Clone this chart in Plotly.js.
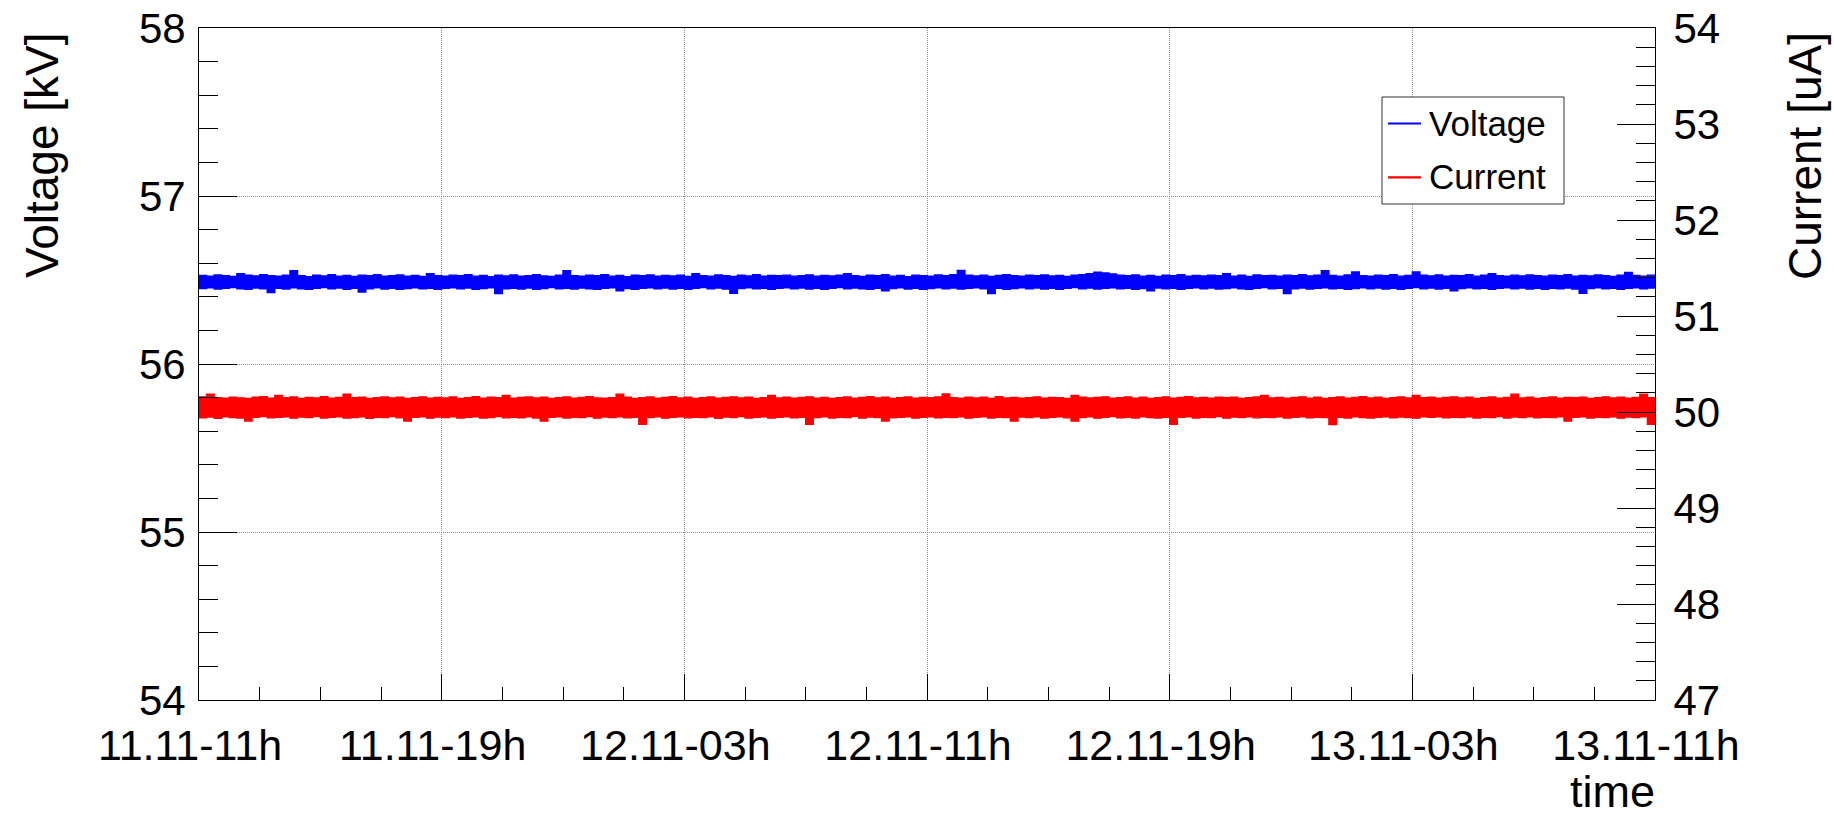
<!DOCTYPE html>
<html>
<head>
<meta charset="utf-8">
<script src="https://cdn.plot.ly/plotly-3.0.1.min.js"></script>
<style>
  html, body { margin: 0; padding: 0; background: #fff; }
  #plot { width: 1834px; height: 818px; }
</style>
</head>
<body>
<div id="plot"></div>
<script>
// HV supply monitor: voltage and current over two days.
// Each series is stored as a per-bin envelope (max / min of the raw
// readings in consecutive 15-minute bins), starting 11.11 11:00.
var startTime = Date.UTC(2018, 10, 11, 11, 0);   // 11.11 11:00
var binMinutes = 15;
var spanHours = 48;

// Voltage [kV], bin maxima
var voltageMax = [
  56.527, 56.523, 56.530, 56.526, 56.521, 56.538, 56.528, 56.524, 56.531, 56.525, 56.522, 56.529, 56.556, 56.526, 56.520, 56.528,
  56.524, 56.531, 56.523, 56.527, 56.521, 56.529, 56.525, 56.532, 56.522, 56.526, 56.530, 56.523, 56.527, 56.521, 56.538, 56.526,
  56.522, 56.529, 56.525, 56.531, 56.523, 56.527, 56.520, 56.528, 56.524, 56.530, 56.522, 56.526, 56.532, 56.524, 56.521, 56.528,
  56.555, 56.525, 56.522, 56.529, 56.526, 56.531, 56.523, 56.527, 56.520, 56.528, 56.525, 56.530, 56.522, 56.527, 56.524, 56.529,
  56.521, 56.538, 56.526, 56.523, 56.530, 56.525, 56.521, 56.528, 56.524, 56.531, 56.522, 56.527, 56.525, 56.529, 56.523, 56.526,
  56.530, 56.522, 56.527, 56.524, 56.529, 56.538, 56.525, 56.521, 56.528, 56.526, 56.531, 56.523, 56.527, 56.520, 56.529, 56.525,
  56.522, 56.530, 56.526, 56.532, 56.557, 56.528, 56.524, 56.529, 56.521, 56.527, 56.531, 56.525, 56.522, 56.528, 56.526, 56.530,
  56.524, 56.527, 56.521, 56.529, 56.532, 56.538, 56.546, 56.542, 56.536, 56.529, 56.525, 56.530, 56.523, 56.527, 56.521, 56.528,
  56.525, 56.531, 56.522, 56.527, 56.524, 56.529, 56.526, 56.538, 56.523, 56.528, 56.521, 56.530, 56.525, 56.527, 56.522, 56.529,
  56.526, 56.531, 56.524, 56.528, 56.555, 56.527, 56.523, 56.530, 56.548, 56.526, 56.522, 56.529, 56.525, 56.531, 56.523, 56.527,
  56.548, 56.528, 56.524, 56.530, 56.522, 56.527, 56.525, 56.531, 56.523, 56.528, 56.538, 56.526, 56.522, 56.529, 56.524, 56.530,
  56.526, 56.523, 56.529, 56.525, 56.531, 56.522, 56.527, 56.524, 56.530, 56.526, 56.521, 56.528, 56.545, 56.527, 56.523, 56.529,
  56.526
];

// Voltage [kV], bin minima
var voltageMin = [
  56.449, 56.453, 56.446, 56.451, 56.455, 56.448, 56.444, 56.452, 56.447, 56.425, 56.450, 56.446, 56.453, 56.448, 56.444, 56.451,
  56.455, 56.447, 56.452, 56.445, 56.450, 56.428, 56.448, 56.453, 56.446, 56.451, 56.444, 56.449, 56.454, 56.447, 56.451, 56.445,
  56.450, 56.454, 56.447, 56.452, 56.445, 56.449, 56.453, 56.420, 56.448, 56.451, 56.446, 56.452, 56.444, 56.449, 56.455, 56.447,
  56.451, 56.446, 56.452, 56.448, 56.444, 56.450, 56.453, 56.435, 56.449, 56.445, 56.451, 56.454, 56.447, 56.452, 56.446, 56.450,
  56.444, 56.451, 56.455, 56.448, 56.452, 56.446, 56.421, 56.449, 56.453, 56.447, 56.451, 56.445, 56.450, 56.454, 56.448, 56.452,
  56.446, 56.450, 56.444, 56.451, 56.455, 56.447, 56.452, 56.448, 56.445, 56.451, 56.435, 56.449, 56.453, 56.446, 56.451, 56.444,
  56.449, 56.454, 56.447, 56.452, 56.446, 56.450, 56.453, 56.448, 56.420, 56.451, 56.445, 56.449, 56.454, 56.447, 56.452, 56.446,
  56.450, 56.444, 56.451, 56.455, 56.448, 56.452, 56.446, 56.450, 56.453, 56.447, 56.451, 56.445, 56.449, 56.435, 56.452, 56.447,
  56.451, 56.445, 56.450, 56.454, 56.447, 56.452, 56.446, 56.449, 56.453, 56.448, 56.444, 56.451, 56.455, 56.447, 56.450, 56.420,
  56.448, 56.452, 56.446, 56.450, 56.453, 56.447, 56.451, 56.445, 56.449, 56.454, 56.448, 56.452, 56.446, 56.450, 56.444, 56.451,
  56.455, 56.448, 56.452, 56.446, 56.450, 56.435, 56.449, 56.453, 56.447, 56.451, 56.445, 56.450, 56.454, 56.448, 56.452, 56.446,
  56.450, 56.444, 56.451, 56.447, 56.452, 56.446, 56.421, 56.449, 56.453, 56.447, 56.451, 56.445, 56.450, 56.454, 56.448, 56.452,
  56.449
];

// Current [uA], bin maxima
var currentMax = [
  50.158, 50.186, 50.150, 50.143, 50.155, 50.147, 50.140, 50.153, 50.160, 50.145, 50.172, 50.149, 50.156, 50.141, 50.152, 50.147,
  50.159, 50.144, 50.151, 50.185, 50.148, 50.155, 50.142, 50.150, 50.157, 50.146, 50.153, 50.140, 50.149, 50.158, 50.144, 50.152,
  50.147, 50.156, 50.141, 50.150, 50.159, 50.145, 50.153, 50.148, 50.172, 50.143, 50.151, 50.157, 50.146, 50.154, 50.140, 50.149,
  50.156, 50.145, 50.152, 50.160, 50.147, 50.143, 50.150, 50.186, 50.154, 50.141, 50.148, 50.157, 50.145, 50.152, 50.159, 50.146,
  50.153, 50.140, 50.149, 50.156, 50.144, 50.151, 50.158, 50.146, 50.153, 50.141, 50.150, 50.172, 50.147, 50.155, 50.143, 50.151,
  50.158, 50.145, 50.152, 50.140, 50.149, 50.157, 50.144, 50.151, 50.160, 50.147, 50.153, 50.142, 50.150, 50.156, 50.145, 50.152,
  50.148, 50.157, 50.187, 50.150, 50.143, 50.155, 50.147, 50.153, 50.141, 50.159, 50.146, 50.152, 50.144, 50.150, 50.157, 50.145,
  50.152, 50.148, 50.140, 50.172, 50.154, 50.146, 50.151, 50.158, 50.143, 50.150, 50.156, 50.145, 50.153, 50.141, 50.149, 50.157,
  50.144, 50.152, 50.159, 50.146, 50.151, 50.143, 50.155, 50.148, 50.153, 50.140, 50.150, 50.157, 50.172, 50.146, 50.152, 50.144,
  50.151, 50.158, 50.145, 50.153, 50.141, 50.149, 50.156, 50.144, 50.152, 50.159, 50.147, 50.153, 50.142, 50.150, 50.157, 50.146,
  50.172, 50.148, 50.155, 50.143, 50.151, 50.158, 50.146, 50.153, 50.140, 50.149, 50.156, 50.145, 50.152, 50.186, 50.147, 50.154,
  50.142, 50.150, 50.157, 50.145, 50.152, 50.148, 50.155, 50.141, 50.150, 50.158, 50.146, 50.153, 50.144, 50.151, 50.186, 50.149,
  50.155
];

// Current [uA], bin minima
var currentMin = [
  49.940, 49.948, 49.935, 49.951, 49.943, 49.938, 49.905, 49.946, 49.953, 49.939, 49.944, 49.950, 49.936, 49.947, 49.941, 49.952,
  49.938, 49.945, 49.950, 49.937, 49.943, 49.949, 49.935, 49.946, 49.941, 49.952, 49.939, 49.905, 49.944, 49.950, 49.936, 49.947,
  49.942, 49.951, 49.938, 49.945, 49.949, 49.936, 49.943, 49.952, 49.939, 49.946, 49.940, 49.950, 49.937, 49.905, 49.944, 49.951,
  49.938, 49.945, 49.941, 49.952, 49.936, 49.947, 49.943, 49.950, 49.939, 49.945, 49.872, 49.941, 49.949, 49.936, 49.944, 49.951,
  49.939, 49.946, 49.942, 49.950, 49.935, 49.947, 49.943, 49.952, 49.938, 49.944, 49.949, 49.937, 49.945, 49.951, 49.940, 49.946,
  49.872, 49.943, 49.950, 49.938, 49.945, 49.941, 49.952, 49.936, 49.947, 49.943, 49.905, 49.939, 49.946, 49.950, 49.937, 49.944,
  49.951, 49.940, 49.946, 49.942, 49.949, 49.936, 49.944, 49.950, 49.938, 49.945, 49.941, 49.905, 49.947, 49.943, 49.950, 49.937,
  49.944, 49.951, 49.939, 49.905, 49.942, 49.949, 49.936, 49.945, 49.952, 49.940, 49.946, 49.938, 49.950, 49.943, 49.937, 49.946,
  49.871, 49.944, 49.950, 49.938, 49.945, 49.941, 49.952, 49.936, 49.947, 49.943, 49.950, 49.939, 49.946, 49.942, 49.949, 49.937,
  49.944, 49.951, 49.940, 49.946, 49.942, 49.870, 49.945, 49.938, 49.950, 49.943, 49.937, 49.946, 49.951, 49.940, 49.947, 49.943,
  49.936, 49.949, 49.944, 49.951, 49.939, 49.946, 49.942, 49.950, 49.937, 49.945, 49.941, 49.952, 49.938, 49.947, 49.943, 49.950,
  49.939, 49.946, 49.941, 49.949, 49.905, 49.944, 49.951, 49.938, 49.945, 49.942, 49.950, 49.936, 49.947, 49.943, 49.950, 49.872,
  49.944
];

// Bin timestamps (ms, UTC)
var times = voltageMax.map(function (_, i) { return startTime + i * binMinutes * 60000; });
var endTime = startTime + spanHours * 3600000;

var FONT = 'Liberation Sans, Arial, Helvetica, sans-serif';
var BLUE = '#0000ff';
var RED = '#ff0000';

function band(values, color, axis, fillToPrev) {
  var t = { x: times, y: values, type: 'scatter', mode: 'lines', showlegend: false,
    line: { color: color, width: 1.4, shape: 'hv' }, yaxis: axis, hoverinfo: 'skip' };
  if (fillToPrev) { t.fill = 'tonexty'; t.fillcolor = color; }
  return t;
}

var traces = [
  band(voltageMax, BLUE, 'y', false),
  band(voltageMin, BLUE, 'y', true),
  band(currentMax, RED, 'y2', false),
  band(currentMin, RED, 'y2', true)
];
traces[0].name = traces[1].name = 'Voltage';
traces[2].name = traces[3].name = 'Current';

var W = 1834, H = 818;
var L = 199, R = 1655, T = 28, B = 700;
function px2x(p) { return (p - L) / (R - L); }
function px2y(p) { return (B - p) / (B - T); }

var gridDash = '1px,1px';
var gridColor = '#8c8c8c';

// Legend box (ROOT-style TLegend): frame, line samples and labels
var legendBox = { x0: 1382, x1: 1564, y0: 97, y1: 204 };
var legendRows = [
  { label: 'Voltage', color: BLUE, y: 123.5 },
  { label: 'Current', color: RED, y: 177.3 }
];

var shapes = [
  { type: 'rect', xref: 'paper', yref: 'paper',
    x0: px2x(legendBox.x0), x1: px2x(legendBox.x1), y0: px2y(legendBox.y1), y1: px2y(legendBox.y0),
    fillcolor: '#ffffff', line: { color: '#333333', width: 1 }, layer: 'above' }
];
var annotations = [];
legendRows.forEach(function (r) {
  shapes.push({ type: 'line', xref: 'paper', yref: 'paper',
    x0: px2x(1388), x1: px2x(1421), y0: px2y(r.y), y1: px2y(r.y),
    line: { color: r.color, width: 2.2 }, layer: 'above' });
  annotations.push({ text: r.label, showarrow: false, xref: 'paper', yref: 'paper',
    x: px2x(1427), y: px2y(r.y - 0.5), xanchor: 'left', yanchor: 'middle',
    font: { family: FONT, size: 35, color: '#000' } });
});

annotations.push(
  { text: 'Voltage [kV]', textangle: -90, showarrow: false,
    xref: 'paper', yref: 'paper', x: px2x(14), y: px2y(30), xanchor: 'left', yanchor: 'top',
    font: { family: FONT, size: 46, color: '#000' } },
  { text: 'Current [uA]', textangle: -90, showarrow: false,
    xref: 'paper', yref: 'paper', x: px2x(1833), y: px2y(30), xanchor: 'right', yanchor: 'top',
    font: { family: FONT, size: 46, color: '#000' } },
  { text: 'time', showarrow: false, borderpad: 0,
    xref: 'paper', yref: 'paper', x: px2x(1656), y: px2y(818), xanchor: 'right', yanchor: 'bottom',
    font: { family: FONT, size: 45, color: '#000' } }
);

var layout = {
  width: W, height: H,
  margin: { l: L, r: W - R, t: T, b: H - B, pad: 0 },
  paper_bgcolor: '#ffffff', plot_bgcolor: '#ffffff',
  font: { family: FONT, color: '#000' },
  showlegend: false,
  xaxis: {
    type: 'date', range: [startTime, endTime], autorange: false,
    tickmode: 'linear', tick0: startTime, dtick: 8 * 3600000,
    tickformat: '%d.%m-%Hh',
    ticks: 'inside', ticklen: 26, tickwidth: 1, tickcolor: '#000',
    showline: true, linecolor: '#000', linewidth: 1, mirror: true,
    showgrid: true, gridcolor: gridColor, gridwidth: 1, griddash: gridDash,
    zeroline: false,
    tickfont: { family: FONT, size: 43, color: '#000' },
    ticklabelshift: -9, ticklabelstandoff: 7,
    minor: { tick0: startTime, dtick: 2 * 3600000, ticks: 'inside', ticklen: 13, tickwidth: 1, tickcolor: '#000', showgrid: false }
  },
  yaxis: {
    range: [54, 58], autorange: false,
    tickmode: 'linear', tick0: 54, dtick: 1,
    ticks: 'inside', ticklen: 38, tickwidth: 1, tickcolor: '#000',
    showline: true, linecolor: '#000', linewidth: 1,
    showgrid: true, gridcolor: gridColor, gridwidth: 1, griddash: gridDash,
    zeroline: false,
    tickfont: { family: FONT, size: 42, color: '#000' },
    ticklabelstandoff: 4,
    minor: { tick0: 54, dtick: 0.2, ticks: 'inside', ticklen: 19, tickwidth: 1, tickcolor: '#000', showgrid: false }
  },
  yaxis2: {
    overlaying: 'y', side: 'right',
    range: [47, 54], autorange: false,
    tickmode: 'linear', tick0: 47, dtick: 1,
    ticks: 'inside', ticklen: 38, tickwidth: 1, tickcolor: '#000',
    showline: true, linecolor: '#000', linewidth: 1,
    showgrid: false, zeroline: false,
    tickfont: { family: FONT, size: 42, color: '#000' },
    ticklabelstandoff: 9,
    minor: { tick0: 47, dtick: 0.2, ticks: 'inside', ticklen: 19, tickwidth: 1, tickcolor: '#000', showgrid: false }
  },
  shapes: shapes,
  annotations: annotations
};

Plotly.newPlot('plot', traces, layout, { staticPlot: true, displayModeBar: false });
</script>
</body>
</html>
